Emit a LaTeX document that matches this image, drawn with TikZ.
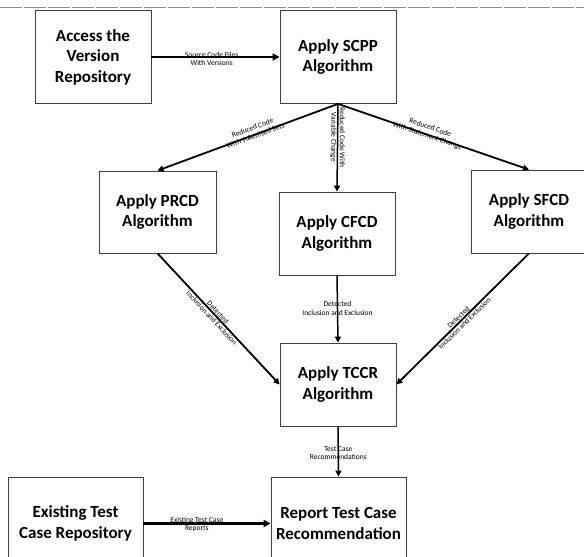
\documentclass[tikz,border=0pt]{standalone}
\usepackage{fontspec}
\setmainfont{Carlito}
\usetikzlibrary{arrows.meta}
\tikzset{
  box/.style={draw=black!75, line width=0.8pt, fill=white, align=center, inner sep=0pt,
    minimum width=116pt, font=\bfseries\fontsize{17}{20.5}\selectfont},
  lbl/.style={align=center, inner sep=0pt, font=\fontsize{7.5}{8.5}\selectfont},
  conn/.style={draw=black, line width=1.8pt, -{Triangle[length=6pt,width=6pt]}},
  heavy/.style={conn, line width=2.6pt, -{Triangle[length=7pt,width=7pt]}},
  vert/.style={conn, line width=1.5pt}
}
\begin{document}
\begin{tikzpicture}[x=1pt,y=-1pt]
\useasboundingbox (0,0) rectangle (584,557);
\draw[black!45, line width=0.7pt, dash pattern=on 22pt off 2pt] (0,7) -- (584,7);

\node[box, minimum height=93pt] (access) at (93,57) {Access the\\Version\\Repository};
\node[box, minimum height=93pt] (scpp) at (338,57) {Apply SCPP\\Algorithm};
\node[box, minimum width=117pt, minimum height=82pt] (prcd) at (157.5,212) {Apply PRCD\\Algorithm};
\node[box, minimum height=83pt] (cfcd) at (337,233.5) {Apply CFCD\\Algorithm};
\node[box, minimum height=83pt] (sfcd) at (529,211.5) {Apply SFCD\\Algorithm};
\node[box, minimum height=83pt] (tccr) at (338,384.5) {Apply TCCR\\Algorithm};
\node[box, minimum width=135pt, minimum height=93pt] (exist) at (75.5,523.5) {Existing Test\\Case Repository};
\node[box, minimum width=135pt, minimum height=93pt] (report) at (338.5,523.5) {Report Test Case\\Recommendation};

\draw[heavy] (access) -- node[lbl, pos=0.47, yshift=-2pt] (l1) {Source Code Files\\With Versions} (scpp);
\draw[conn] (scpp.south) -- node[lbl, sloped, pos=0.46, yshift=3pt] (l2) {Reduced Code\\With Tokenised Sets} (prcd.north);
\draw[vert] (scpp.south) -- node[lbl, rotate=-90, pos=0.4, xshift=-1.5pt] (l3) {Reduced Code With\\Variable Change} (cfcd.north);
\draw[conn] (scpp.south) -- node[lbl, sloped, pos=0.47, yshift=3pt] (l4) {Reduced Code\\With Statement Change} (sfcd.north);
\draw[conn] (prcd.south) -- node[lbl, sloped, pos=0.47] (l5) {Detected\\Inclusion and Exclusion} (tccr.west);
\draw[vert] (cfcd.south) -- node[lbl, pos=0.49] (l6) {Detected\\Inclusion and Exclusion} (tccr.north);
\draw[conn] (sfcd.south) -- node[lbl, sloped, pos=0.51] (l7) {Detected\\Inclusion and Exclusion} (tccr.east);
\draw[vert] (tccr.south) -- node[lbl, pos=0.53] (l8) {Test Case\\Recommendations} (report.north);
\draw[heavy] (exist) -- node[lbl, pos=0.42, yshift=-1pt] (l9) {Existing Test Case\\Reports} (report);
\end{tikzpicture}
\end{document}
